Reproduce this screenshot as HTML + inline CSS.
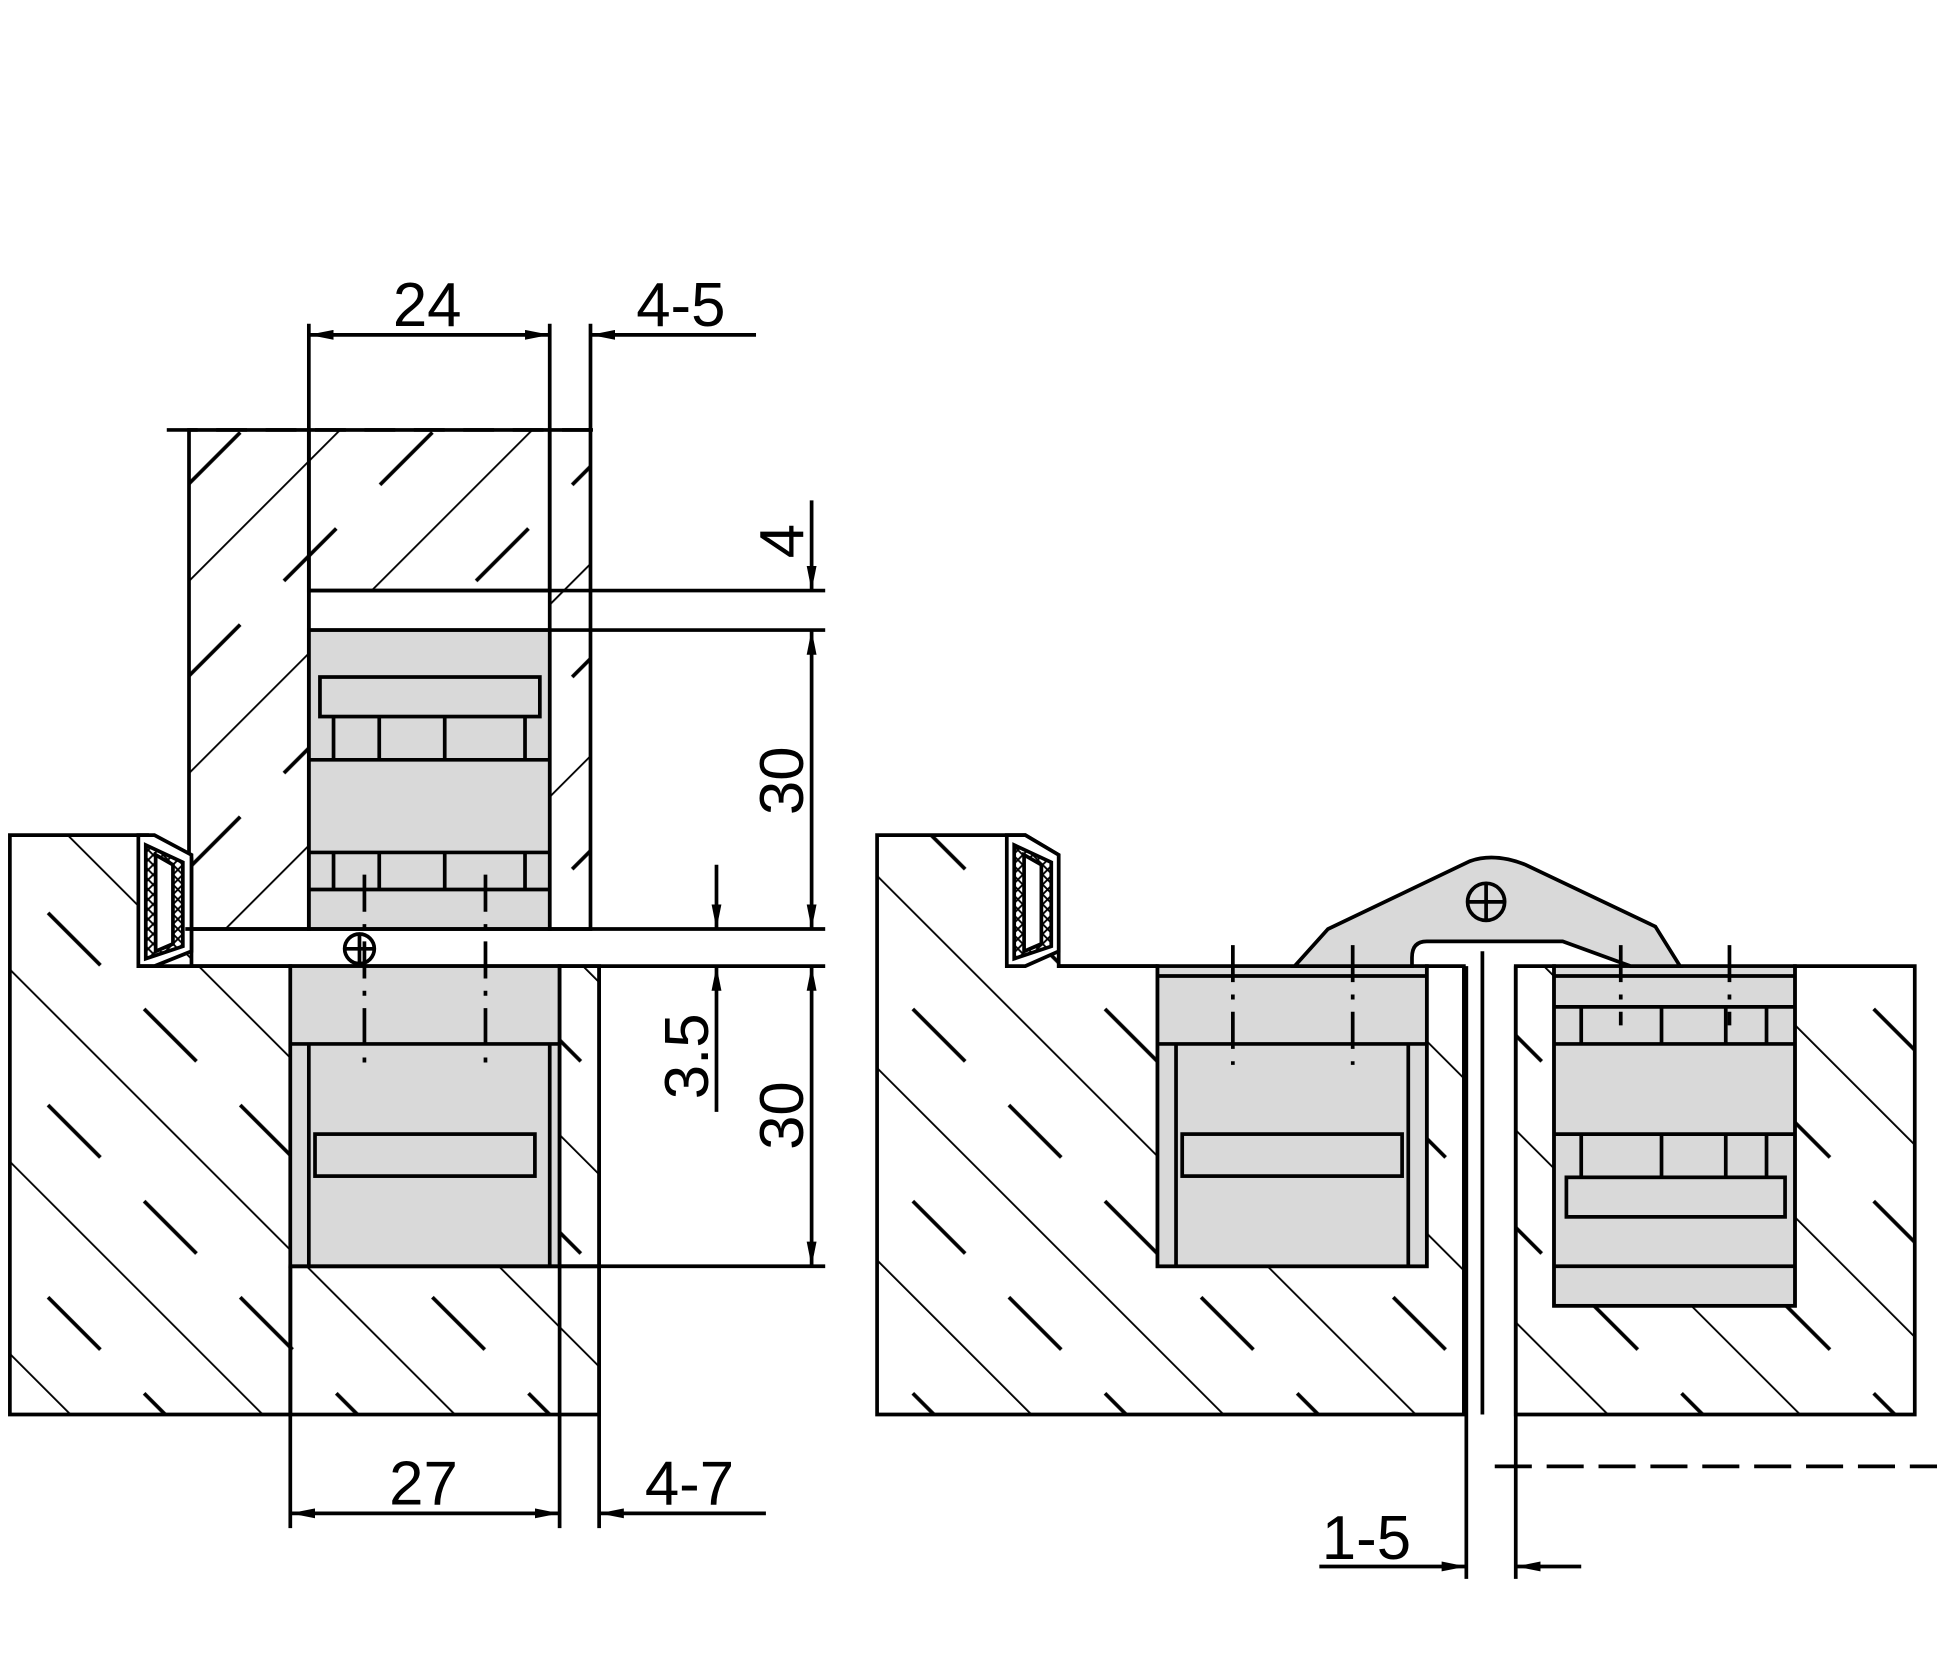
<!DOCTYPE html>
<html><head><meta charset="utf-8"><style>
html,body{margin:0;padding:0;background:#fff;}
svg{display:block;}
text{font-family:"Liberation Sans Narrow","Liberation Sans",sans-serif;font-size:50px;fill:#000;}
</style></head><body>
<svg width="1937" height="1653" viewBox="0 0 1568 1338" xmlns="http://www.w3.org/2000/svg">
<defs>
<pattern id="hf" patternUnits="userSpaceOnUse" width="110" height="110" patternTransform="rotate(45)">
<line x1="0" y1="0" x2="0" y2="110" stroke="#000" stroke-width="3"/>
<line x1="55" y1="0" x2="55" y2="110" stroke="#000" stroke-width="3" stroke-dasharray="60 50"/>
</pattern>
<pattern id="hb" patternUnits="userSpaceOnUse" width="110" height="110" patternTransform="rotate(-45)">
<line x1="0" y1="0" x2="0" y2="110" stroke="#000" stroke-width="3"/>
<line x1="55" y1="0" x2="55" y2="110" stroke="#000" stroke-width="3" stroke-dasharray="60 50"/>
</pattern>
<pattern id="x" patternUnits="userSpaceOnUse" width="8" height="8">
<path d="M0 0L8 8M8 0L0 8" stroke="#000" stroke-width="1.5"/>
</pattern>
<marker id="a" viewBox="0 0 20 8" refX="20" refY="4" markerWidth="20" markerHeight="8" orient="auto-start-reverse" markerUnits="userSpaceOnUse"><path d="M0,0 L20,4 L0,8z" fill="#000"/></marker>
</defs>
<g fill="none" stroke="#000" stroke-width="3">
<!-- LEFT: top door -->
<rect x="153" y="348" width="97" height="404" fill="url(#hf)"/>
<rect x="250" y="348" width="195" height="130" fill="url(#hf)"/>
<rect x="445" y="348" width="33" height="404" fill="url(#hf)"/>
<line x1="135" y1="348" x2="495" y2="348" stroke-dasharray="25 15"/>
<line x1="250" y1="478" x2="668" y2="478"/>
<line x1="250" y1="510" x2="668" y2="510"/>
<rect x="250" y="510" width="195" height="242" fill="#d9d9d9"/>
<rect x="259" y="548" width="178" height="32" fill="#d9d9d9"/>
<path d="M270 580V615M307 580V615M360 580V615M425 580V615M250 615H445M250 690H445M270 690V720M307 690V720M360 690V720M425 690V720M250 720H445"/>
<!-- frame left -->
<path d="M8 676H120L155 695V782H235V1145H8Z" fill="url(#hb)"/>
<rect x="235" y="1025" width="250" height="120" fill="url(#hb)"/>
<rect x="453" y="782" width="32" height="243" fill="url(#hb)"/>
<path d="M112 676H125L155 692V770L125 782H112Z" fill="#fff"/>
<path d="M118 684L148 698V766L118 776Z" fill="url(#x)"/>
<path d="M126 692L140 700V764L126 770Z" fill="#fff"/>
<line x1="150" y1="752" x2="668" y2="752"/>
<line x1="112" y1="782" x2="668" y2="782"/>
<rect x="235" y="782" width="218" height="243" fill="#d9d9d9"/>
<line x1="235" y1="845" x2="453" y2="845"/>
<line x1="250" y1="845" x2="250" y2="1025"/><line x1="445" y1="845" x2="445" y2="1025"/>
<rect x="255" y="918" width="178" height="34"/>
<line x1="235" y1="1025" x2="668" y2="1025"/>
<line x1="453" y1="782" x2="453" y2="1237"/><line x1="485" y1="782" x2="485" y2="1237"/>
<line x1="235" y1="1025" x2="235" y2="1237"/>
<circle cx="291" cy="768" r="12"/><path d="M279 768H303M291 756V780"/>
<path d="M295 708V862M393 708V862" stroke-dasharray="30 10 4 10"/>
<!-- dims left -->
<path d="M250 262V752M445 262V348M478 262V348"/>
<line x1="250" y1="271" x2="445" y2="271" marker-start="url(#a)" marker-end="url(#a)"/>
<line x1="478" y1="271" x2="612" y2="271" marker-start="url(#a)"/>
<line x1="657" y1="405" x2="657" y2="478" marker-end="url(#a)"/>
<line x1="657" y1="510" x2="657" y2="752" marker-start="url(#a)" marker-end="url(#a)"/>
<line x1="657" y1="782" x2="657" y2="1025" marker-start="url(#a)" marker-end="url(#a)"/>
<line x1="580" y1="700" x2="580" y2="752" marker-end="url(#a)"/>
<line x1="580" y1="900" x2="580" y2="782" marker-end="url(#a)"/>
<line x1="235" y1="1225" x2="453" y2="1225" marker-start="url(#a)" marker-end="url(#a)"/>
<line x1="485" y1="1225" x2="620" y2="1225" marker-start="url(#a)"/>
<!-- RIGHT drawing -->
<path d="M710 676H830L857 692V782H937V1025H1155V782H1185V1145H710Z" fill="url(#hb)"/>
<path d="M815 676H830L857 692V770L830 782H815Z" fill="#fff"/>
<path d="M821 684L851 698V766L821 776Z" fill="url(#x)"/>
<path d="M829 692L843 700V764L829 770Z" fill="#fff"/>
<path d="M1227 782H1258V1057H1453V782H1550V1145H1227Z" fill="url(#hb)"/>
<line x1="857" y1="782" x2="937" y2="782"/>
<rect x="937" y="782" width="218" height="243" fill="#d9d9d9"/>
<path d="M937 790H1155M937 845H1155M952 845V1025M1140 845V1025"/>
<rect x="957" y="918" width="178" height="34"/>
<rect x="1258" y="782" width="195" height="275" fill="#d9d9d9"/>
<path d="M1258 790H1453M1258 815H1453M1258 845H1453M1258 918H1453M1280 815V845M1345 815V845M1397 815V845M1430 815V845M1280 918V953M1345 918V953M1397 918V953M1430 918V953M1258 1025H1453"/>
<rect x="1268" y="953" width="177" height="32"/>
<path d="M1048 782L1075 752L1190 697Q1210 690 1235 700L1340 750L1360 782H1320L1265 762H1155Q1143 762 1143 775V782Z" fill="#d9d9d9"/>
<circle cx="1203" cy="730" r="15"/><path d="M1188 730H1218M1203 715V745"/>
<path d="M998 765V862M1095 765V862M1312 765V830M1400 765V830" stroke-dasharray="30 10 4 10"/>
<line x1="1187" y1="782" x2="1187" y2="1278"/>
<line x1="1200" y1="770" x2="1200" y2="1145"/>
<line x1="1227" y1="782" x2="1227" y2="1278"/>
<line x1="1210" y1="1187" x2="1568" y2="1187" stroke-dasharray="30 12"/>
<line x1="1068" y1="1268" x2="1187" y2="1268" marker-end="url(#a)"/>
<line x1="1280" y1="1268" x2="1227" y2="1268" marker-end="url(#a)"/>
</g>
<text x="318" y="264">24</text>
<text x="515" y="264">4-5</text>
<text x="315" y="1218">27</text>
<text x="522" y="1218">4-7</text>
<text x="1070" y="1262">1-5</text>
<text transform="translate(650,438) rotate(-90)" text-anchor="middle">4</text>
<text transform="translate(650,632) rotate(-90)" text-anchor="middle">30</text>
<text transform="translate(650,903) rotate(-90)" text-anchor="middle">30</text>
<text transform="translate(573,855) rotate(-90)" text-anchor="middle">3.5</text>
</svg>
</body></html>
